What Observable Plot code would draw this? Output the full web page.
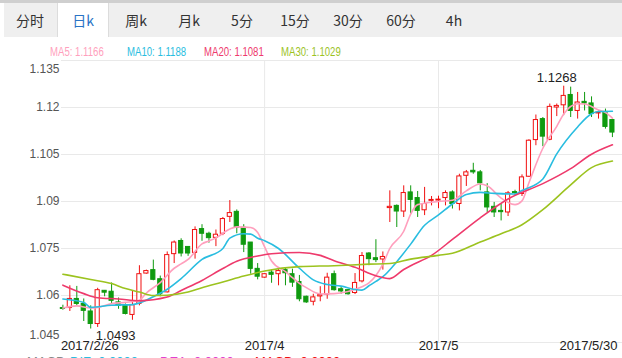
<!DOCTYPE html>
<html><head><meta charset="utf-8">
<script src="https://cdn.jsdelivr.net/npm/d3@7"></script>
<script src="https://cdn.jsdelivr.net/npm/@observablehq/plot@0.6"></script>
<style>
html,body{margin:0;padding:0;background:#fff;width:622px;height:358px;overflow:hidden;font-family:Arial,"Liberation Sans","Noto Sans CJK SC",sans-serif;}
#wrap{position:relative;width:622px;height:358px;overflow:hidden;}
#chart{position:absolute;left:0;top:0;}
#strip{position:absolute;left:0;top:0;width:622px;height:3px;background:#cfcfcf;}
#tabs{position:absolute;left:4px;top:3px;width:618px;height:34px;background:#efefef;}
#activebg{position:absolute;top:3px;height:34px;background:#fff;border-left:1px solid #dcdcdc;border-right:1px solid #dcdcdc;box-sizing:border-box;}
.tab{position:absolute;top:3px;height:34px;line-height:34px;font-size:14px;color:#333;transform:translateX(-50%);white-space:nowrap;font-family:"Noto Sans CJK SC","Microsoft YaHei",sans-serif;}
.tab.active{color:#2a73c5;}
.leg{position:absolute;top:45px;font-size:12px;line-height:14px;white-space:nowrap;font-family:Arial,"Liberation Sans",sans-serif;transform:scaleX(0.8);transform-origin:0 0;}
#macd{position:absolute;top:355px;left:0;font-size:13px;line-height:13px;white-space:nowrap;}
#macd span{position:absolute;top:0;}
</style></head>
<body><div id="wrap"><div id="chart"></div><div id="strip"></div><div id="tabs"></div><div id="activebg"></div><div id="tablabels"></div><div id="legend"></div><div id="macd"></div></div>
<script>
// ---- data ----
const tabs = ["分时","日k","周k","月k","5分","15分","30分","60分","4h"];
const activeTab = 1;

const open  = [1.0560,1.0560,1.0589,1.0573,1.0549,1.0509,1.0615,1.0612,1.0578,1.0567,
               1.0538,1.0573,1.0670,1.0681,1.0652,1.0610,1.0732,1.0774,1.0755,1.0736,
               1.0812,1.0797,1.0784,1.0797,1.0851,1.0867,1.0816,1.0769,1.0685,1.0657,
               1.0673,1.0668,1.0681,1.0668,1.0643,1.0596,1.0580,1.0597,1.0603,1.0668,
               1.0620,1.0617,1.0608,1.0645,1.0734,1.0719,1.0715,1.0879,1.0886,1.0868,
               1.0929,1.0911,1.0872,1.0902,1.0903,1.0911,1.0929,1.0892,1.0982,1.0998,
               1.0993,1.0929,1.0883,1.0870,1.0865,1.0930,1.0924,1.0979,1.1096,1.1163,
               1.1097,1.1200,1.1207,1.1240,1.1189,1.1218,1.1213,1.1181,1.1186,1.1160];
const high  = [1.0569,1.0631,1.0629,1.0589,1.0567,1.0623,1.0616,1.0640,1.0592,1.0573,
               1.0615,1.0695,1.0681,1.0713,1.0662,1.0739,1.0774,1.0781,1.0755,1.0819,
               1.0826,1.0802,1.0809,1.0849,1.0903,1.0873,1.0826,1.0769,1.0702,1.0670,
               1.0681,1.0683,1.0689,1.0684,1.0664,1.0598,1.0604,1.0628,1.0671,1.0678,
               1.0628,1.0619,1.0670,1.0737,1.0737,1.0778,1.0739,1.0934,1.0889,1.0950,
               1.0950,1.0932,1.0945,1.0916,1.0917,1.0934,1.0934,1.0987,1.0999,1.1022,
               1.0999,1.0957,1.0897,1.0892,1.0932,1.0936,1.0985,1.1097,1.1176,1.1168,
               1.1211,1.1211,1.1268,1.1265,1.1248,1.1248,1.1234,1.1189,1.1195,1.1163];
const low   = [1.0553,1.0549,1.0567,1.0517,1.0493,1.0498,1.0596,1.0573,1.0556,1.0538,
               1.0521,1.0567,1.0668,1.0647,1.0596,1.0608,1.0702,1.0723,1.0725,1.0716,
               1.0773,1.0767,1.0756,1.0791,1.0833,1.0797,1.0737,1.0668,1.0650,1.0655,
               1.0639,1.0631,1.0631,1.0626,1.0580,1.0575,1.0567,1.0580,1.0588,1.0614,
               1.0604,1.0601,1.0603,1.0640,1.0695,1.0705,1.0681,1.0833,1.0817,1.0849,
               1.0860,1.0849,1.0855,1.0886,1.0877,1.0886,1.0876,1.0870,1.0948,1.0987,
               1.0934,1.0865,1.0849,1.0838,1.0852,1.0918,1.0916,1.0977,1.1078,1.1075,
               1.1094,1.1171,1.1174,1.1168,1.1163,1.1189,1.1168,1.1163,1.1131,1.1104];
const close = [1.0557,1.0589,1.0573,1.0551,1.0509,1.0617,1.0609,1.0583,1.0567,1.0541,
               1.0569,1.0668,1.0678,1.0650,1.0604,1.0729,1.0769,1.0734,1.0734,1.0809,
               1.0797,1.0783,1.0794,1.0844,1.0863,1.0816,1.0762,1.0685,1.0660,1.0668,
               1.0666,1.0678,1.0671,1.0641,1.0588,1.0578,1.0594,1.0601,1.0657,1.0617,
               1.0613,1.0604,1.0640,1.0726,1.0716,1.0713,1.0723,1.0883,1.0868,1.0927,
               1.0905,1.0870,1.0892,1.0905,1.0906,1.0927,1.0892,1.0980,1.0993,1.0993,
               1.0958,1.0881,1.0865,1.0866,1.0926,1.0927,1.0977,1.1094,1.1160,1.1107,
               1.1202,1.1205,1.1237,1.1189,1.1216,1.1213,1.1179,1.1184,1.1138,1.1120];

// moving averages: [bar index, value]
const ma5  = [[0,1.0560],[2,1.0567],[4,1.0560],[5,1.0562],[7,1.0574],[9,1.0578],[11,1.0585],[12,1.0608],[14,1.0641],[16,1.0687],[17,1.0701],[18,1.0715],[20,1.0765],[21,1.0774],[22,1.0784],[24,1.0812],[25,1.0819],[27,1.0817],[28,1.0801],[29,1.0755],[30,1.0710],[32,1.0676],[33,1.0657],[34,1.0639],[35,1.0625],[37,1.0605],[39,1.0606],[41,1.0613],[43,1.0628],[44,1.0640],[46,1.0700],[47,1.0750],[49,1.0805],[50,1.0860],[51,1.0890],[54,1.0900],[56,1.0904],[58,1.0934],[60,1.0956],[61,1.0950],[63,1.0911],[65,1.0890],[66,1.0902],[67,1.0960],[69,1.1070],[71,1.1140],[72,1.1179],[74,1.1212],[75,1.1211],[77,1.1192],[78,1.1184],[79,1.1166]];
const ma10 = [[0,1.0589],[3,1.0578],[4,1.0562],[7,1.0569],[10,1.0571],[11,1.0576],[13,1.0596],[15,1.0620],[17,1.0654],[20,1.0715],[23,1.0750],[24,1.0783],[26,1.0797],[27,1.0796],[28,1.0783],[29,1.0775],[31,1.0750],[34,1.0687],[36,1.0650],[38,1.0635],[40,1.0630],[42,1.0619],[43,1.0617],[44,1.0631],[45,1.0645],[46,1.0660],[48,1.0708],[50,1.0764],[52,1.0824],[54,1.0857],[56,1.0892],[58,1.0922],[60,1.0929],[62,1.0926],[65,1.0924],[66,1.0935],[69,1.0972],[71,1.1052],[74,1.1138],[76,1.1180],[77,1.1187],[79,1.1188]];
const ma20 = [[0,1.0633],[3,1.0606],[5,1.0593],[8,1.0589],[11,1.0583],[15,1.0595],[17,1.0616],[20,1.0648],[23,1.0686],[25,1.0709],[28,1.0726],[30,1.0733],[34,1.0737],[37,1.0728],[39,1.0711],[42,1.0690],[45,1.0663],[47,1.0654],[49,1.0683],[50,1.0695],[53,1.0728],[56,1.0779],[60,1.0848],[64,1.0908],[69,1.0957],[73,1.1005],[76,1.1051],[79,1.1081]];
const ma30 = [[0,1.0668],[4,1.0651],[7,1.0638],[9,1.0622],[11,1.0611],[13,1.0600],[15,1.0601],[18,1.0611],[20,1.0625],[23,1.0643],[26,1.0662],[29,1.0678],[34,1.0692],[39,1.0695],[44,1.0700],[47,1.0702],[50,1.0716],[54,1.0728],[56,1.0735],[60,1.0771],[63,1.0797],[66,1.0826],[69,1.0874],[73,1.0953],[76,1.1008],[79,1.1029]];
const maNames = ["MA5","MA10","MA20","MA30"];

const yTicks = [1.045,1.06,1.075,1.09,1.105,1.12,1.135];
const xTickIdx = [0,29,54,79];
const xTickLabels = ["2017/2/26","2017/4","2017/5","2017/5/30"];
const macdLabels = ["MACD","DIF: 0.0000","DEA: 0.0000","MACD: 0.0000"];

// ---- styles ----
const RED = "#f01010", GREEN = "#0f9a0f";
const maColors = ["#ff9fbd","#29bde0","#ee3a6c","#9cc31f"];
const mas = [ma5, ma10, ma20, ma30];

// ---- html chrome ----
const tl = document.getElementById("tablabels");
const ab = document.getElementById("activebg");
ab.style.left = (30 + activeTab*53 - 26) + "px"; ab.style.width = "52px";
tabs.forEach((t,i)=>{
  const s = document.createElement("div");
  s.className = "tab" + (i===activeTab ? " active" : "");
  s.style.left = (30 + i*53) + "px";
  s.textContent = t; tl.appendChild(s);
});
const lg = document.getElementById("legend");
maNames.forEach((n,i)=>{
  const s = document.createElement("div");
  s.className = "leg"; s.style.left = (50 + i*77) + "px"; s.style.color = maColors[i];
  s.textContent = n + ": " + mas[i][mas[i].length-1][1].toFixed(4);
  lg.appendChild(s);
});
const mc = document.getElementById("macd");
const macdColors = ["#888","#29bde0","#e040d0","#f01010"], macdX = [27,70,160,255];
macdLabels.forEach((t,i)=>{
  const s = document.createElement("span");
  s.style.left = macdX[i] + "px"; s.style.color = macdColors[i]; s.textContent = t; mc.appendChild(s);
});

// ---- chart ----
const candles = open.map((o,i)=>({i, o, h: high[i], l: low[i], c: close[i], up: close[i] >= o}));
const iMax = d3.maxIndex(high), iMin = d3.minIndex(low);
const fmtY = d => String(+d.toFixed(3));
const font = "Arial, 'Liberation Sans', sans-serif";

const chart = Plot.plot({
  width: 622, height: 358,
  marginLeft: 61, marginRight: 0, marginTop: 60, marginBottom: 16,
  x: {domain: [-0.2, 80.45], axis: null},
  y: {domain: [1.045, 1.135], axis: null},
  color: {type: "identity"},
  style: {background: "transparent", overflow: "visible", fontFamily: font},
  marks: [
    Plot.ruleY(yTicks, {stroke: "#e9e9e9", strokeWidth: 1}),
    Plot.ruleX(xTickIdx.slice(1, 3), {y1: 1.045, y2: 1.135, stroke: "#e9e9e9", strokeWidth: 1}),
    // y labels
    Plot.text(yTicks.slice(1, -1), {y: d => d, frameAnchor: "left", textAnchor: "end", dx: -2, text: fmtY, fontSize: 12, fill: "#555"}),
    Plot.text(yTicks.slice(-1), {y: d => d, frameAnchor: "left", textAnchor: "end", dx: -2, dy: 9, text: fmtY, fontSize: 12, fill: "#555"}),
    Plot.text(yTicks.slice(0, 1), {y: d => d, frameAnchor: "left", textAnchor: "end", dx: -2, dy: -7, text: fmtY, fontSize: 12, fill: "#555"}),
    // x labels
    Plot.text([0], {x: d => xTickIdx[d], frameAnchor: "bottom", textAnchor: "start", dx: -2, dy: 7, text: d => xTickLabels[d], fontSize: 13, fill: "#222"}),
    Plot.text([1, 2], {x: d => xTickIdx[d], frameAnchor: "bottom", textAnchor: "middle", dy: 7, text: d => xTickLabels[d], fontSize: 13, fill: "#222"}),
    Plot.text([3], {x: d => xTickIdx[d], frameAnchor: "bottom", textAnchor: "end", dx: 5, dy: 7, text: d => xTickLabels[d], fontSize: 13, fill: "#222"}),
    // candles
    Plot.ruleX(candles, {x: "i", y1: "l", y2: "h", stroke: d => d.up ? RED : GREEN, strokeWidth: 1}),
    Plot.rect(candles, {x1: d => d.i - 0.3, x2: d => d.i + 0.3, y1: "o", y2: "c",
      fill: d => d.up ? "#ffffff" : GREEN, stroke: d => d.up ? RED : GREEN, strokeWidth: 1}),
    // moving averages
    ...mas.map((m, k) => Plot.line(m, {x: d => d[0], y: d => d[1], stroke: maColors[k], strokeWidth: 1.6, curve: "monotone-x"})),
    // extremes
    Plot.text([iMax], {x: d => d, y: d => high[d], text: d => high[d].toFixed(4), dx: -7, dy: -8, fontSize: 13, fill: "#222"}),
    Plot.text([iMin], {x: d => d, y: d => low[d], text: d => low[d].toFixed(4), dx: 25, dy: 7, fontSize: 13, fill: "#222"})
  ]
});
document.getElementById("chart").appendChild(chart);
</script>
</body></html>
